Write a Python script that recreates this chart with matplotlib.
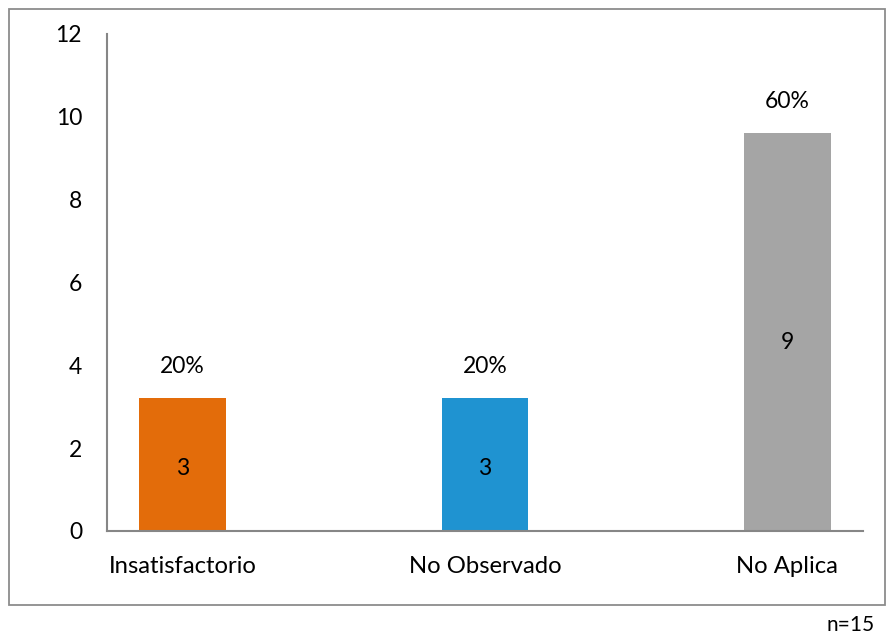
import matplotlib
matplotlib.use('Agg')
import matplotlib.pyplot as plt
from matplotlib.patches import Rectangle

plt.rcParams['font.family'] = ['Lato', 'DejaVu Sans']

categories = ['Insatisfactorio', 'No Observado', 'No Aplica']
bar_heights = [3.2, 3.2, 9.6]
counts = ['3', '3', '9']
percents = ['20%', '20%', '60%']
offsets = [-0.2, 0.0, 0.2]
colors = ['#E36C0A', '#1F93D1', '#A5A5A5']
axis_gray = '#868686'

fig = plt.figure(figsize=(8.86, 6.34), dpi=100)
ax = fig.add_axes([0.1208, 0.1625, 0.8532, 0.7839])

xs = [i + offsets[i] for i in range(len(categories))]
for i in range(len(categories)):
    ax.bar(xs[i], bar_heights[i], width=0.345, color=colors[i], zorder=2)
    # count sits a bit under the middle of the bar
    ax.text(xs[i], bar_heights[i] * 0.475, counts[i], ha='center', va='center', fontsize=16.5)
    ax.text(xs[i], bar_heights[i] + 0.77, percents[i], ha='center', va='center', fontsize=16.5)

ax.set_xlim(-0.5, 2.5)
ax.set_ylim(0, 12)
ax.set_yticks(range(0, 13, 2))
ax.set_xticks(xs)
ax.set_xticklabels(categories)
ax.tick_params(axis='both', length=0, labelsize=16.5, colors='black')
ax.tick_params(axis='x', labelsize=17.2, pad=18)
ax.tick_params(axis='y', pad=18)

for side in ['top', 'right']:
    ax.spines[side].set_visible(False)
for side in ['left', 'bottom']:
    ax.spines[side].set_color(axis_gray)
    ax.spines[side].set_linewidth(1.5)

# outer chart frame
fig.patches.append(Rectangle((0.0102, 0.0457), 0.9887, 0.940, transform=fig.transFigure,
                             fill=False, edgecolor='#8C8C8C', linewidth=1.3))

fig.text(0.9876, 0.014, 'n=15', ha='right', va='center', fontsize=15)

fig.savefig('out.png', dpi=100)
